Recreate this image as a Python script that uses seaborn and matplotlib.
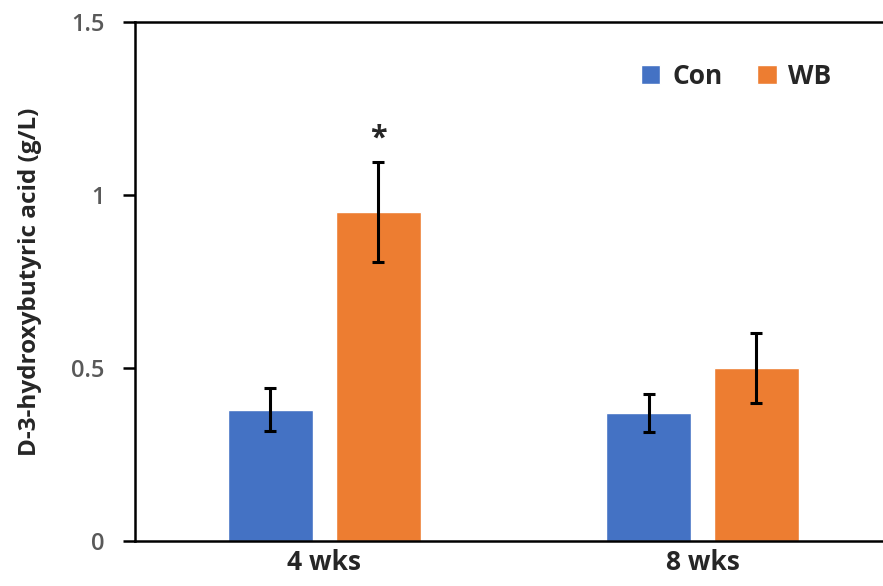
import pandas as pd
import seaborn as sns
import matplotlib.pyplot as plt

# values
timepoints = ['4 wks', '8 wks']
groups = ['Con', 'WB']
con_mean = [0.38, 0.37]
con_err = [0.062, 0.055]
wb_mean = [0.95, 0.50]
wb_err = [0.145, 0.10]
y_ticks = [0, 0.5, 1, 1.5]
y_tick_labels = ['0', '0.5', '1', '1.5']
colors = {'Con': '#4472C4', 'WB': '#ED7D31'}

df = pd.DataFrame({
    'time': timepoints * 2,
    'group': ['Con'] * 2 + ['WB'] * 2,
    'value': con_mean + wb_mean,
    'err': con_err + wb_err,
})

sns.set_style('white')
plt.rcParams['font.family'] = ['Open Sans', 'DejaVu Sans']

fig = plt.figure(figsize=(8.83, 5.86), dpi=100)
ax = fig.add_axes([0.1529, 0.0768, 0.857, 0.8857])

sns.barplot(data=df, x='time', y='value', hue='group', hue_order=groups,
            order=timepoints, palette=colors, width=0.57, gap=0.21,
            errorbar=None, saturation=1, ax=ax)

# error bars from the precomputed values
for container, g in zip(ax.containers, groups):
    sub = df[df['group'] == g].set_index('time').loc[timepoints]
    xs = [p.get_x() + p.get_width() / 2 for p in container.patches]
    ax.errorbar(xs, sub['value'], yerr=sub['err'], fmt='none', ecolor='black',
                elinewidth=2.2, capsize=4.5, capthick=2.2, zorder=5)

# significance mark
wb = df[df['group'] == 'WB'].set_index('time')
star_bar = ax.containers[1].patches[0]
ax.text(star_bar.get_x() + star_bar.get_width() / 2,
        wb.loc['4 wks', 'value'] + wb.loc['4 wks', 'err'] + 0.025, '*',
        ha='center', va='bottom', fontsize=22, fontweight='bold')

ax.set_xlim(-0.5, 1.5)
ax.set_ylim(0, 1.5)
ax.set_yticks(y_ticks)
ax.set_yticklabels(y_tick_labels)
ax.tick_params(axis='y', direction='out', length=9, width=1.8, colors='black',
               labelcolor='#595959', labelsize=17, pad=13, left=True)
for lab in ax.get_yticklabels():
    lab.set_fontweight('semibold')
ax.tick_params(axis='x', length=0, labelsize=19, pad=6)
for lab in ax.get_xticklabels():
    lab.set_fontweight('bold')
ax.set_xlabel('')
ax.set_ylabel('D-3-hydroxybutyric acid (g/L)', fontsize=17.5, fontweight='bold',
              labelpad=21)

for side in ['left', 'bottom', 'top']:
    ax.spines[side].set_linewidth(1.8)
    ax.spines[side].set_color('black')
ax.spines['right'].set_visible(False)

leg = ax.legend(loc='upper right', bbox_to_anchor=(0.952, 0.967), ncol=2,
                frameon=False, handlelength=0.75, handleheight=0.75,
                handletextpad=0.45, columnspacing=1.3,
                prop={'size': 19, 'weight': 'bold'})

fig.savefig('out.png', dpi=100)
